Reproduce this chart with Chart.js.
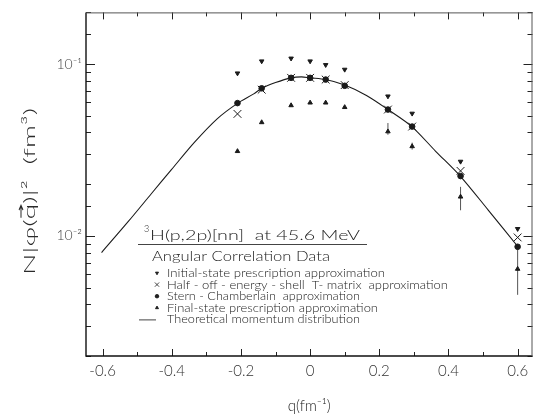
<!DOCTYPE html>
<html>
<head>
<meta charset="utf-8">
<script src="https://cdn.jsdelivr.net/npm/chart.js@4.4.0/dist/chart.umd.min.js"></script>
<style>
  html, body { margin: 0; padding: 0; background: #fff; }
</style>
</head>
<body>
<canvas id="myChart" width="539" height="415"></canvas>
<script>
// momentum q (fm^-1) of the measured points
const q = [-0.21, -0.14, -0.055, 0, 0.045, 0.10, 0.225, 0.295, 0.435, 0.60];

// N|phi(q)|^2 (fm^3) for the four prescriptions
const initialState = [0.0885, 0.104, 0.108, 0.104, 0.099, 0.093, 0.065, 0.0516, 0.0271, 0.0110];
const halfOffShell = [0.0513, 0.0710, 0.0832, 0.0832, 0.0813, 0.0755, 0.0544, 0.0433, 0.0239, 0.0098];
const sternChamberlain = [0.0593, 0.0723, 0.0832, 0.0832, 0.0813, 0.0748, 0.0544, 0.0433, 0.0223, 0.00865];
const finalState = [0.0311, 0.0458, 0.0575, 0.0596, 0.0596, 0.0561, 0.0405, 0.0332, 0.0169, 0.00642];

// error bars on the final-state points
const errQ = [0.225, 0.295, 0.435, 0.60];
const errLow = [0.0388, 0.0318, 0.0141, 0.00454];
const errHigh = [0.0454, 0.0349, 0.0193, 0.00853];

// theoretical momentum distribution
const curveQ = [-0.603, -0.525, -0.458, -0.401, -0.334, -0.268, -0.209, -0.163, -0.14, -0.1, -0.055, -0.025, 0, 0.045, 0.1, 0.163, 0.225, 0.294, 0.363, 0.434, 0.515, 0.601];
const curveY = [0.0080, 0.01218, 0.01772, 0.0243, 0.03513, 0.04818, 0.0593, 0.0671, 0.0723, 0.0781, 0.0832, 0.0843, 0.0832, 0.0813, 0.0755, 0.0657, 0.0544, 0.0433, 0.0311, 0.0223, 0.01414, 0.00865];

const legendTitle = 'H(p,2p)[nn]  at 45.6 MeV';
const legendSubtitle = 'Angular Correlation Data';
const legendLabels = [
    'Initial-state prescription approximation',
    'Half - off - energy - shell  T- matrix  approximation',
    'Stern - Chamberlain  approximation',
    'Final-state prescription approximation',
    'Theoretical momentum distribution',
];

const FONT = 'Lato, "DejaVu Sans", sans-serif';
const INK = '#1a1a1a';

function points(xs, ys) {
    return xs.map((x, i) => ({ x: x, y: ys[i] }));
}

const markerStyles = [
    { pointStyle: 'triangle', rotation: 180, radius: 2.6 },
    { pointStyle: 'crossRot', rotation: 0, radius: 5.5 },
    { pointStyle: 'circle', rotation: 0, radius: 2.8 },
    { pointStyle: 'triangle', rotation: 0, radius: 2.6 },
];

const seriesData = [initialState, halfOffShell, sternChamberlain, finalState];

const datasets = [{
    type: 'line',
    data: points(curveQ, curveY),
    borderColor: INK,
    borderWidth: 1.1,
    pointRadius: 0,
    tension: 0.3,
    fill: false,
}];

seriesData.forEach((vals, i) => {
    const m = markerStyles[i];
    datasets.push({
        type: 'scatter',
        data: points(q, vals),
        pointStyle: m.pointStyle,
        rotation: m.rotation,
        pointRadius: m.radius,
        backgroundColor: INK,
        borderColor: INK,
        borderWidth: 1,
    });
});

errQ.forEach((x, i) => {
    datasets.push({
        type: 'line',
        data: [{ x: x, y: errLow[i] }, { x: x, y: errHigh[i] }],
        borderColor: '#555',
        borderWidth: 1,
        pointRadius: 0,
    });
});

function fitText(ctx, text, x, y, width) {
    const w = ctx.measureText(text).width;
    ctx.save();
    ctx.translate(x, y);
    ctx.scale(width / w, 1);
    ctx.fillText(text, 0, 0);
    ctx.restore();
}

// N|phi(q)|^2 (fm^3) with a vector arrow drawn over the q
function drawYTitle(ctx, x, y, width) {
    const parts = ['N|\u03c6(', 'q', ')|\u00b2  (fm\u00b3)'];
    const ws = parts.map(p => ctx.measureText(p).width);
    const total = ws[0] + ws[1] + ws[2];
    ctx.save();
    ctx.translate(x, y);
    ctx.rotate(-Math.PI / 2);
    ctx.scale(width / total, 1);
    let cx = 0;
    parts.forEach((p, i) => {
        ctx.fillText(p, cx, 0);
        cx += ws[i];
    });
    const ax0 = ws[0] + 1;
    const ax1 = ws[0] + ws[1] - 1;
    const ay = -9;
    ctx.lineWidth = 1;
    ctx.beginPath();
    ctx.moveTo(ax0, ay);
    ctx.lineTo(ax1, ay);
    ctx.moveTo(ax1 - 2.5, ay - 2);
    ctx.lineTo(ax1, ay);
    ctx.lineTo(ax1 - 2.5, ay + 2);
    ctx.stroke();
    ctx.restore();
}

// frame with inward ticks on all four sides
const framePlugin = {
    id: 'frame',
    afterDraw(chart) {
        const ctx = chart.ctx;
        const a = chart.chartArea;
        const xs = chart.scales.x;
        const ys = chart.scales.y;
        ctx.save();
        ctx.strokeStyle = '#222';
        ctx.lineWidth = 1;
        ctx.beginPath();
        xs.ticks.forEach(t => {
            const px = Math.round(xs.getPixelForValue(t.value)) + 0.5;
            const major = Math.abs(Math.round(t.value * 10)) % 2 === 0;
            const len = major ? 7 : 4;
            ctx.moveTo(px, a.bottom); ctx.lineTo(px, a.bottom - len);
            ctx.moveTo(px, a.top); ctx.lineTo(px, a.top + len);
        });
        ys.ticks.forEach(t => {
            const py = Math.round(ys.getPixelForValue(t.value)) + 0.5;
            const major = Math.abs(Math.log10(t.value) - Math.round(Math.log10(t.value))) < 1e-6;
            const len = major ? 9 : 5;
            ctx.moveTo(a.left, py); ctx.lineTo(a.left + len, py);
            ctx.moveTo(a.right, py); ctx.lineTo(a.right - len, py);
        });
        ctx.stroke();

        ctx.lineWidth = 1.4;
        ctx.strokeStyle = '#111';
        ctx.beginPath();
        ctx.moveTo(a.left, a.top);
        ctx.lineTo(a.left, a.bottom);
        ctx.lineTo(a.right, a.bottom);
        ctx.stroke();
        ctx.lineWidth = 1;
        ctx.strokeStyle = '#555';
        ctx.beginPath();
        ctx.moveTo(a.left, a.top + 0.5);
        ctx.lineTo(a.right, a.top + 0.5);
        ctx.moveTo(a.right - 0.5, a.top);
        ctx.lineTo(a.right - 0.5, a.bottom);
        ctx.stroke();

        // y axis title
        ctx.fillStyle = '#2a2a2a';
        ctx.strokeStyle = '#2a2a2a';
        ctx.font = '300 16px ' + FONT;
        ctx.textBaseline = 'middle';
        drawYTitle(ctx, 30, 275, 167);
        ctx.restore();
    }
};

// boxed-in key inside the plot
const keyPlugin = {
    id: 'key',
    afterDraw(chart) {
        const ctx = chart.ctx;
        ctx.save();
        ctx.fillStyle = '#222';
        ctx.strokeStyle = INK;
        ctx.textBaseline = 'alphabetic';

        ctx.font = '300 9px ' + FONT;
        ctx.fillText('3', 144, 232);
        ctx.font = '300 14px ' + FONT;
        fitText(ctx, legendTitle, 150, 240, 210);

        ctx.lineWidth = 1;
        ctx.strokeStyle = '#444';
        ctx.beginPath();
        ctx.moveTo(138, 244.5);
        ctx.lineTo(367, 244.5);
        ctx.stroke();

        ctx.font = '300 13px ' + FONT;
        fitText(ctx, legendSubtitle, 152, 261, 178);

        const widths = [218, 281, 193, 211, 193];
        const baseY = 277;
        const step = 11.6;
        ctx.font = '300 11px ' + FONT;
        legendLabels.forEach((label, i) => {
            const y = baseY + i * step;
            const cy = y - 4;
            if (i < markerStyles.length) {
                const m = markerStyles[i];
                Chart.helpers.drawPoint(ctx, {
                    pointStyle: m.pointStyle,
                    rotation: m.rotation,
                    radius: i === 1 ? 3 : 1.8,
                    borderWidth: 1,
                }, 157, cy);
                ctx.fill();
            } else {
                ctx.beginPath();
                ctx.lineWidth = 1;
                ctx.moveTo(139, cy + 0.5);
                ctx.lineTo(156, cy + 0.5);
                ctx.stroke();
            }
            fitText(ctx, label, 167, y, widths[i]);
        });
        ctx.restore();
    }
};

const config = {
    data: { datasets: datasets },
    options: {
        responsive: false,
        animation: false,
        devicePixelRatio: 1,
        events: [],
        layout: { padding: { top: 5, right: 1, left: 0, bottom: 0 } },
        plugins: {
            legend: { display: false },
            tooltip: { enabled: false },
        },
        scales: {
            x: {
                type: 'linear',
                position: 'bottom',
                min: -0.648,
                max: 0.643,
                grid: { display: false, drawTicks: false },
                border: { display: false },
                ticks: {
                    stepSize: 0.1,
                    includeBounds: false,
                    autoSkip: false,
                    maxRotation: 0,
                    padding: 6,
                    color: '#333',
                    font: { family: FONT, size: 15, weight: 300 },
                    callback: function (v) {
                        const n = Math.round(v * 10);
                        if (n % 2 !== 0) return '';
                        return n === 0 ? '0' : (n / 10).toFixed(1);
                    }
                },
                title: {
                    display: true,
                    text: 'q(fm\u207b\u00b9)',
                    color: '#222',
                    font: { family: FONT, size: 15, weight: 300 },
                    padding: { top: 6, bottom: 0 }
                },
                afterFit: function (s) { s.height = 59; }
            },
            y: {
                type: 'logarithmic',
                position: 'left',
                min: 0.002,
                max: 0.2,
                grid: { display: false, drawTicks: false },
                border: { display: false },
                ticks: {
                    autoSkip: false,
                    padding: 4,
                    color: '#444',
                    font: { family: FONT, size: 14, weight: 300 },
                    callback: function (v) {
                        const e = Math.log10(v);
                        if (Math.abs(e + 1) < 1e-6) return '10\u207b\u00b9';
                        if (Math.abs(e + 2) < 1e-6) return '10\u207b\u00b2';
                        return '';
                    }
                },
                afterFit: function (s) { s.width = 86; }
            }
        }
    },
    plugins: [framePlugin, keyPlugin]
};

const myChart = new Chart(document.getElementById('myChart'), config);
</script>
</body>
</html>
